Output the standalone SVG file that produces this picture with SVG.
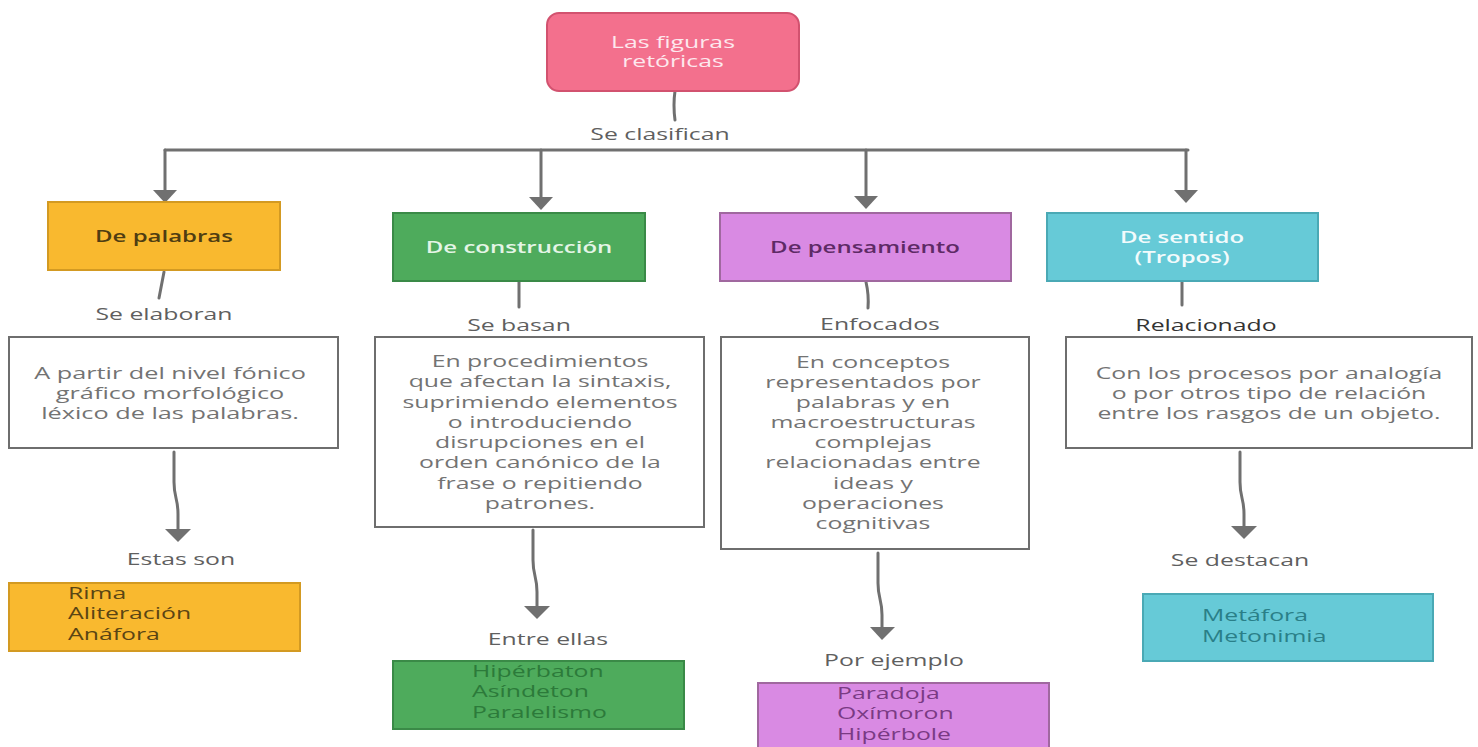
<svg xmlns="http://www.w3.org/2000/svg" width="1478" height="747" viewBox="0 0 1478 747">
<defs>
<style>
text{font-family:"Open Sans","DejaVu Sans",sans-serif;font-size:16px;}
.c{text-anchor:middle;}
.s{text-anchor:start;}
.lbl{fill:#5f5f5f;}
.desc{fill:#737373;}
.ttl{font-weight:600;}
.box{stroke-width:2;}
.tbox{fill:#ffffff;stroke:#6e6e6e;stroke-width:2;}
.con{fill:none;stroke:#707070;stroke-width:3;stroke-linecap:round;}
.head{fill:#707070;}
</style>
</defs>
<rect width="1478" height="747" fill="#ffffff"/>

<g id="connectors">
<path class="con" d="M675 91 Q673 105 675 120"/>
<path class="con" d="M165 150 H1188"/>
<path class="con" d="M165 150 V192"/>
<path class="con" d="M541 150 V198"/>
<path class="con" d="M866 150 V198"/>
<path class="con" d="M1186 150 V192"/>
<path class="con" d="M164 272 L159 298"/>
<path class="con" d="M519 282 V307"/>
<path class="con" d="M866 282 Q869 295 868 308"/>
<path class="con" d="M1182 282 V305"/>
<path class="con" d="M174 452 V482 Q174 490 176 498 Q178 506 178 514 V530"/>
<path class="con" d="M533 530 V560 Q533 568 535 576 Q537 584 537 592 V607"/>
<path class="con" d="M878 553 V583 Q878 591 880 599 Q882 607 882 615 V628"/>
<path class="con" d="M1240 452 V482 Q1240 490 1242 498 Q1244 506 1244 514 V527"/>
<polygon class="head" points="153,190 177,190 165,203"/>
<polygon class="head" points="529,197 553,197 541,210"/>
<polygon class="head" points="854,196 878,196 866,209"/>
<polygon class="head" points="1174,190 1198,190 1186,203"/>
<polygon class="head" points="165,529 191,529 178,542"/>
<polygon class="head" points="524,606 550,606 537,619"/>
<polygon class="head" points="870,627 895,627 882,640"/>
<polygon class="head" points="1231,526 1257,526 1244,539"/>
</g>

<g id="labels">
<text class="c lbl" transform="translate(660 140) scale(1.55 1)">Se clasifican</text>
<text class="c lbl" transform="translate(164 320) scale(1.55 1)">Se elaboran</text>
<text class="c lbl" transform="translate(519 331) scale(1.55 1)">Se basan</text>
<text class="c lbl" transform="translate(880 330) scale(1.55 1)">Enfocados</text>
<text class="c" fill="#333333" transform="translate(1206 331) scale(1.55 1)">Relacionado</text>
<text class="c lbl" transform="translate(181 565) scale(1.55 1)">Estas son</text>
<text class="c lbl" transform="translate(548 645) scale(1.55 1)">Entre ellas</text>
<text class="c lbl" transform="translate(894 666) scale(1.55 1)">Por ejemplo</text>
<text class="c lbl" transform="translate(1240 566) scale(1.55 1)">Se destacan</text>
</g>

<g id="n-root">
<rect x="547" y="13" width="252" height="78" rx="12" fill="#f3708d" stroke="#d2526f" stroke-width="2"/>
<text class="c" fill="#fde8ee" transform="translate(673 48) scale(1.55 1)">Las figuras<tspan x="0" dy="19">retóricas</tspan></text>
</g>

<g id="n-palabras">
<rect class="box" x="48" y="202" width="232" height="68" fill="#f9b92f" stroke="#d39a22"/>
<text class="c ttl" fill="#4f3d12" transform="translate(164 242) scale(1.5 1)">De palabras</text>
</g>
<g id="n-construccion">
<rect class="box" x="393" y="213" width="252" height="68" fill="#4eab5c" stroke="#3a8a47"/>
<text class="c ttl" fill="#e4f5e6" transform="translate(519 253) scale(1.5 1)">De construcción</text>
</g>
<g id="n-pensamiento">
<rect class="box" x="720" y="213" width="291" height="68" fill="#d98ae3" stroke="#a0689f"/>
<text class="c ttl" fill="#5e2a66" transform="translate(865 253) scale(1.5 1)">De pensamiento</text>
</g>
<g id="n-sentido">
<rect class="box" x="1047" y="213" width="271" height="68" fill="#66cad7" stroke="#4aa9b5"/>
<text class="c ttl" fill="#f2fbfc" transform="translate(1182 243) scale(1.5 1)">De sentido<tspan x="0" dy="20">(Tropos)</tspan></text>
</g>

<g id="d-palabras">
<rect class="tbox" x="9" y="337" width="329" height="111"/>
<text class="c desc" transform="translate(170 379) scale(1.58 1)">A partir del nivel fónico<tspan x="0" dy="20">gráfico morfológico</tspan><tspan x="0" dy="20">léxico de las palabras.</tspan></text>
</g>
<g id="d-construccion">
<rect class="tbox" x="375" y="337" width="329" height="190"/>
<text class="c desc" transform="translate(540 367) scale(1.55 1)">En procedimientos<tspan x="0" dy="20.3">que afectan la sintaxis,</tspan><tspan x="0" dy="20.3">suprimiendo elementos</tspan><tspan x="0" dy="20.3">o introduciendo</tspan><tspan x="0" dy="20.3">disrupciones en el</tspan><tspan x="0" dy="20.3">orden canónico de la</tspan><tspan x="0" dy="20.3">frase o repitiendo</tspan><tspan x="0" dy="20.3">patrones.</tspan></text>
</g>
<g id="d-pensamiento">
<rect class="tbox" x="721" y="337" width="308" height="212"/>
<text class="c desc" transform="translate(873 368) scale(1.55 1)">En conceptos<tspan x="0" dy="20.1">representados por</tspan><tspan x="0" dy="20.1">palabras y en</tspan><tspan x="0" dy="20.1">macroestructuras</tspan><tspan x="0" dy="20.1">complejas</tspan><tspan x="0" dy="20.1">relacionadas entre</tspan><tspan x="0" dy="20.1">ideas y</tspan><tspan x="0" dy="20.1">operaciones</tspan><tspan x="0" dy="20.1">cognitivas</tspan></text>
</g>
<g id="d-sentido">
<rect class="tbox" x="1066" y="337" width="406" height="111"/>
<text class="c desc" transform="translate(1269 379) scale(1.55 1)">Con los procesos por analogía<tspan x="0" dy="20">o por otros tipo de relación</tspan><tspan x="0" dy="20">entre los rasgos de un objeto.</tspan></text>
</g>

<g id="r-palabras">
<rect class="box" x="9" y="583" width="291" height="68" fill="#f9b92f" stroke="#d39a22"/>
<text class="s" fill="#5a4514" transform="translate(68 599) scale(1.55 1)">Rima<tspan x="0" dy="20.5">Aliteración</tspan><tspan x="0" dy="20.5">Anáfora</tspan></text>
</g>
<g id="r-construccion">
<rect class="box" x="393" y="661" width="291" height="68" fill="#4eab5c" stroke="#3a8a47"/>
<text class="s" fill="#2c7a3a" transform="translate(472 677) scale(1.55 1)">Hipérbaton<tspan x="0" dy="20.5">Asíndeton</tspan><tspan x="0" dy="20.5">Paralelismo</tspan></text>
</g>
<g id="r-pensamiento">
<rect class="box" x="758" y="683" width="291" height="70" fill="#d98ae3" stroke="#a0689f"/>
<text class="s" fill="#7a3a84" transform="translate(837 699) scale(1.55 1)">Paradoja<tspan x="0" dy="20.5">Oxímoron</tspan><tspan x="0" dy="20.5">Hipérbole</tspan></text>
</g>
<g id="r-sentido">
<rect class="box" x="1143" y="594" width="290" height="67" fill="#66cad7" stroke="#4aa9b5"/>
<text class="s" fill="#2a7f88" transform="translate(1202 621) scale(1.55 1)">Metáfora<tspan x="0" dy="21">Metonimia</tspan></text>
</g>
</svg>
